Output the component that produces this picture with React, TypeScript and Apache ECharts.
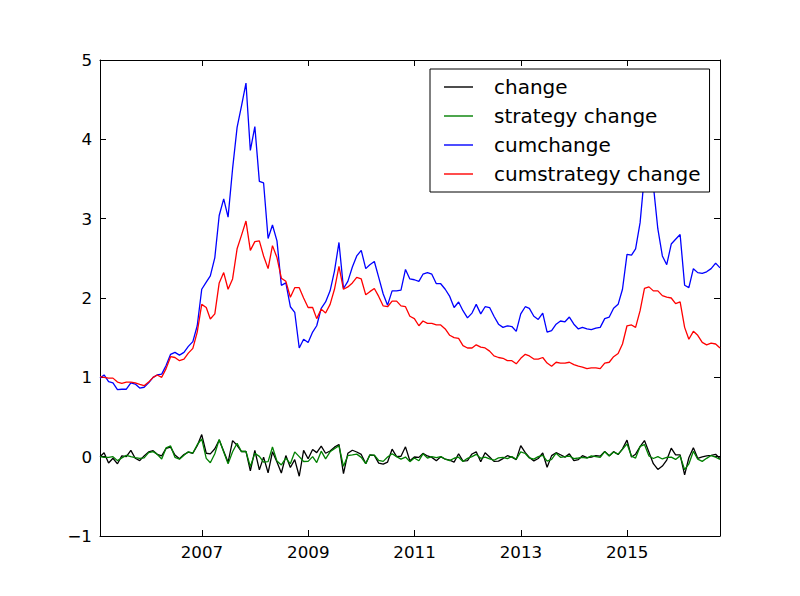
import React, { useEffect, useRef } from "react";
import * as echarts from "echarts";

// First month of the monthly series (month-end dates)
const firstYear = 2005;
const firstMonth = 1;

const tickYears = [2007, 2009, 2011, 2013, 2015];
const yTicksMin = -1;
const yTicksMax = 5;

const seriesNames = ["change", "strategy change", "cumchange", "cumstrategy change"];
const seriesColors = ["#000000", "#008000", "#0000ff", "#ff0000"];

const change = [
  0.0, 0.05, -0.08, -0.02, -0.09, 0.01, 0.0, 0.08, -0.02, -0.05, 0.01, 0.06,
  0.075, 0.03, 0.01, 0.105, 0.12, 0.02, -0.027, 0.027, 0.057, 0.043, 0.138, 0.279,
  0.043, 0.036, 0.1, 0.211, 0.069, -0.071, 0.202, 0.143, 0.065, 0.066, -0.18, 0.078,
  -0.166, -0.006, -0.203, 0.062, -0.068, -0.206, 0.014, -0.137, -0.037, -0.247, 0.08, -0.027,
  0.09, 0.051, 0.133, 0.043, 0.072, 0.12, 0.154, -0.215, 0.042, 0.081, 0.059, 0.028,
  -0.088, 0.021, 0.017, -0.081, -0.093, -0.068, 0.094, 0.0, 0.005, 0.124, -0.051, -0.004,
  -0.009, 0.041, 0.009, -0.009, -0.052, 0.0, -0.032, -0.043, -0.069, 0.037, -0.056, -0.049,
  0.034, 0.061, -0.063, 0.05, -0.005, -0.059, -0.056, -0.024, 0.012, -0.006, -0.037, 0.139,
  0.05, -0.011, -0.053, -0.023, 0.046, -0.133, 0.013, 0.05, 0.024, -0.006, 0.035, -0.051,
  -0.036, 0.012, -0.012, -0.006, 0.013, 0.006, 0.067, 0.011, 0.063, 0.027, 0.099, 0.209,
  -0.004, 0.031, 0.126, 0.203, 0.056, -0.088, -0.161, -0.118, -0.043, 0.107, 0.022, 0.022,
  -0.229, -0.014, 0.113, -0.021, -0.004, 0.009, 0.017, 0.03, -0.025,
];

const strategyChange = [
  0.0, -0.01, -0.01, 0.0, -0.05, -0.016, 0.016, 0.0, -0.011, -0.022, -0.016, 0.05,
  0.064, 0.03, -0.029, 0.11, 0.135, -0.008, -0.032, 0.017, 0.061, 0.046, 0.15, 0.223,
  -0.021, -0.077, 0.037, 0.217, 0.059, -0.091, 0.062, 0.17, 0.065, 0.065, -0.125, 0.042,
  0.004, -0.07, -0.063, 0.122, -0.056, -0.104, -0.018, -0.09, 0.06, 0.0, -0.061, -0.06,
  0.0, -0.074, 0.069, -0.027, 0.061, 0.099, 0.137, -0.121, 0.014, 0.023, 0.032, -0.009,
  -0.089, 0.02, 0.019, -0.047, -0.059, -0.005, 0.037, 0.0, -0.031, -0.005, -0.063, -0.017,
  -0.052, 0.036, -0.018, 0.0, -0.012, 0.0, -0.03, -0.05, -0.02, -0.007, -0.06, -0.021,
  0.0, 0.029, -0.021, -0.007, -0.029, -0.045, -0.016, -0.008, -0.024, 0.0, -0.033, 0.06,
  0.04, -0.016, -0.031, 0.0, 0.016, -0.056, -0.034, 0.044, -0.008, 0.0, 0.008, -0.025,
  -0.017, -0.009, -0.018, 0.009, 0.0, -0.009, 0.063, 0.008, 0.059, 0.032, 0.092, 0.162,
  0.006, -0.018, 0.129, 0.152, 0.009, -0.023, 0.0, -0.029, -0.01, -0.005, -0.035, 0.01,
  -0.164, -0.092, 0.068, -0.032, -0.059, -0.021, 0.014, -0.007, -0.035,
];

const cumChange = [
  0.99, 1.03, 0.945, 0.93, 0.845, 0.85, 0.85, 0.93, 0.915, 0.865, 0.875, 0.93,
  1.0, 1.03, 1.04, 1.15, 1.29, 1.315, 1.28, 1.315, 1.39, 1.45, 1.65, 2.11,
  2.2, 2.28, 2.51, 3.04, 3.25, 3.02, 3.63, 4.15, 4.42, 4.71, 3.86, 4.16,
  3.47, 3.45, 2.75, 2.92, 2.72, 2.16, 2.19, 1.89, 1.82, 1.37, 1.48, 1.44,
  1.57, 1.65, 1.87, 1.95, 2.09, 2.34, 2.7, 2.12, 2.21, 2.39, 2.53, 2.6,
  2.37, 2.42, 2.46, 2.26, 2.05, 1.91, 2.09, 2.09, 2.1, 2.36, 2.24, 2.23,
  2.21, 2.3, 2.32, 2.3, 2.18, 2.18, 2.11, 2.02, 1.88, 1.95, 1.84, 1.75,
  1.81, 1.92, 1.8, 1.89, 1.88, 1.77, 1.67, 1.63, 1.65, 1.64, 1.58, 1.8,
  1.89, 1.87, 1.77, 1.73, 1.81, 1.57, 1.59, 1.67, 1.71, 1.7, 1.76, 1.67,
  1.61, 1.63, 1.61, 1.6, 1.62, 1.63, 1.74, 1.76, 1.87, 1.92, 2.11, 2.55,
  2.54, 2.62, 2.95, 3.55, 3.75, 3.42, 2.87, 2.53, 2.42, 2.68, 2.74, 2.8,
  2.16, 2.13, 2.37, 2.32, 2.31, 2.33, 2.37, 2.44, 2.38,
];

const cumStrategyChange = [
  1.01, 1.0, 0.99, 0.99, 0.94, 0.925, 0.94, 0.94, 0.93, 0.91, 0.895, 0.94,
  1.0, 1.03, 1.0, 1.11, 1.26, 1.25, 1.21, 1.23, 1.305, 1.365, 1.57, 1.92,
  1.88, 1.735, 1.8, 2.19, 2.32, 2.11, 2.24, 2.62, 2.79, 2.97, 2.6, 2.71,
  2.72, 2.53, 2.37, 2.66, 2.51, 2.25, 2.21, 2.01, 2.13, 2.13, 2.0, 1.88,
  1.88, 1.74, 1.86, 1.81, 1.92, 2.11, 2.4, 2.11, 2.14, 2.19, 2.26, 2.24,
  2.04, 2.08, 2.12, 2.02, 1.9, 1.89, 1.96, 1.96, 1.9, 1.89, 1.77, 1.74,
  1.65, 1.71, 1.68, 1.68, 1.66, 1.66, 1.61, 1.53, 1.5, 1.49, 1.4, 1.37,
  1.37, 1.41, 1.38, 1.37, 1.33, 1.27, 1.25, 1.24, 1.21, 1.21, 1.17, 1.24,
  1.29, 1.27, 1.23, 1.23, 1.25, 1.18, 1.14, 1.19, 1.18, 1.18, 1.19, 1.16,
  1.14, 1.13, 1.11, 1.12, 1.12, 1.11, 1.18, 1.19, 1.26, 1.3, 1.42, 1.65,
  1.66, 1.63, 1.84, 2.12, 2.14, 2.09, 2.09, 2.03, 2.01, 2.0, 1.93, 1.95,
  1.63, 1.48, 1.58, 1.53, 1.44, 1.41, 1.43, 1.42, 1.37,
];

function monthEndDates(n: number): number[] {
  const out: number[] = [];
  let y = firstYear;
  let m = firstMonth;
  for (let k = 0; k < n; k++) {
    out.push(new Date(y, m, 0).getTime());
    m++;
    if (m > 12) {
      m = 1;
      y++;
    }
  }
  return out;
}

export default function App() {
  const ref = useRef<HTMLDivElement>(null);

  useEffect(() => {
    document.body.style.margin = "0";
    if (!ref.current) return;
    const chart = echarts.init(ref.current, null, { renderer: "svg" });

    const dates = monthEndDates(cumChange.length);
    const pair = (vals: number[]) => vals.map((v, i) => [dates[i], v]);
    const font = "DejaVu Sans";
    const tickVals = tickYears.map((y) => new Date(y, 0, 1).getTime());

    const axisLine = { show: true, onZero: false, lineStyle: { color: "#000", width: 1 } };
    const tickStyle = { color: "#000", width: 1 };

    const xBase: any = {
      type: "value",
      min: dates[0],
      max: dates[dates.length - 1],
      axisLine,
      splitLine: { show: false },
      axisTick: { show: true, inside: true, length: 6, customValues: tickVals, lineStyle: tickStyle },
    };
    const yBase: any = {
      type: "value",
      min: yTicksMin,
      max: yTicksMax,
      interval: 1,
      axisLine,
      splitLine: { show: false },
      axisTick: { show: true, inside: true, length: 6, lineStyle: tickStyle },
    };

    const allSeries = [change, strategyChange, cumChange, cumStrategyChange];

    chart.setOption({
      animation: false,
      backgroundColor: "#ffffff",
      grid: { left: 100, right: 80, top: 60, bottom: 60 },
      xAxis: [
        {
          ...xBase,
          position: "bottom",
          axisLabel: {
            customValues: tickVals,
            formatter: (v: number) => String(new Date(v).getFullYear()),
            color: "#000",
            fontFamily: font,
            fontSize: 16.7,
            margin: 7,
          },
        },
        { ...xBase, position: "top", axisLabel: { show: false } },
      ],
      yAxis: [
        {
          ...yBase,
          position: "left",
          axisLabel: {
            formatter: (v: number) => (v < 0 ? "\u2212" + String(-v) : String(v)),
            color: "#000",
            fontFamily: font,
            fontSize: 16.7,
            margin: 8,
          },
        },
        { ...yBase, position: "right", axisLabel: { show: false } },
      ],
      legend: {
        orient: "vertical",
        left: 430,
        top: 69,
        selectedMode: false,
        icon: "rect",
        itemWidth: 29,
        itemHeight: 1.4,
        itemGap: 9,
        padding: [8, 9, 8, 14],
        backgroundColor: "#ffffff",
        borderColor: "#000000",
        borderWidth: 1,
        borderRadius: 0,
        z: 10,
        data: seriesNames,
        textStyle: {
          color: "#000",
          fontFamily: font,
          fontSize: 20,
          lineHeight: 20,
          padding: [0, 0, 0, 16],
        },
      },
      series: allSeries.map((vals, k) => ({
        name: seriesNames[k],
        type: "line",
        xAxisIndex: 0,
        yAxisIndex: 0,
        data: pair(vals),
        color: seriesColors[k],
        symbol: "none",
        showSymbol: false,
        lineStyle: { color: seriesColors[k], width: 1.3 },
        emphasis: { disabled: true },
        z: 2 + k * 0.01,
      })),
    });

    return () => chart.dispose();
  }, []);

  return <div ref={ref} style={{ width: 800, height: 596 }} />;
}
